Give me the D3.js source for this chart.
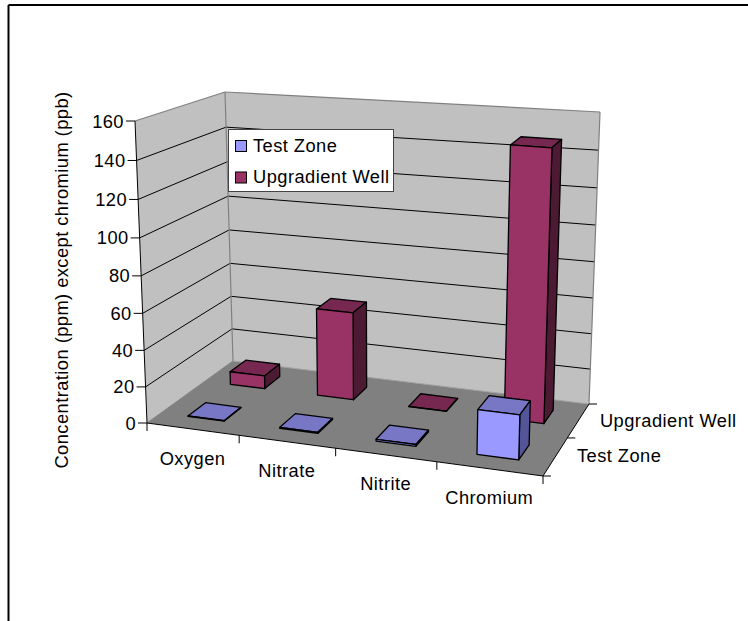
<!DOCTYPE html>
<html>
<head>
<meta charset="utf-8">
<script src="https://cdn.jsdelivr.net/npm/d3@7"></script>
<style>
  html, body { margin: 0; padding: 0; background: #fff; }
  text { font-family: "Liberation Sans", Arial, sans-serif; fill: #000; letter-spacing: 0.45px; }
</style>
</head>
<body>
<div id="chart"></div>
<script>
// Chart data
const categories = ['Oxygen', 'Nitrate', 'Nitrite', 'Chromium'];
const seriesNames = ['Test Zone', 'Upgradient Well'];
const testZone = [0.2, 0.6, 1, 24];
const upgradientWell = [7.5, 50, 0.1, 148];
const yTicks = [0, 20, 40, 60, 80, 100, 120, 140, 160];

const width = 748;
const height = 621;
const fontSize = 18.3;

const svg = d3.select('#chart')
  .append('svg')
  .attr('width', width)
  .attr('height', height)
  .style('display', 'block');

// Scales go to 0..1 along each edge of the box
const x = d3.scaleLinear().domain([0, categories.length]).range([0, 1]);
const z = d3.scaleLinear().domain([0, seriesNames.length]).range([0, 1]);
const y = d3.scaleLinear().domain([0, 160]).range([0, 1]);

// Screen positions of the box corners, named [x][depth][height]
const corners = {
  '000': [147, 423], '100': [543, 476], '010': [233, 361], '110': [589, 404],
  '001': [135, 121], '101': [552, 156], '011': [225, 92], '111': [600, 112]
};

// Foreshortening along each edge
const warp = (t, k) => t * k / (1 + t * (k - 1));

function project(cx, cz, vy) {
  const a = warp(x(cx), 0.91);
  const b = warp(z(cz), 1.12);
  const c = warp(y(vy), 0.95);
  const out = [0, 0];
  for (let i = 0; i < 2; i++) {
    const bottom = (1 - b) * ((1 - a) * corners['000'][i] + a * corners['100'][i])
      + b * ((1 - a) * corners['010'][i] + a * corners['110'][i]);
    const top = (1 - b) * ((1 - a) * corners['001'][i] + a * corners['101'][i])
      + b * ((1 - a) * corners['011'][i] + a * corners['111'][i]);
    out[i] = (1 - c) * bottom + c * top;
  }
  return out;
}

const path = d3.line().curve(d3.curveLinearClosed);
const nx = categories.length;
const nz = seriesNames.length;

function face(pts, fill, stroke, sw) {
  svg.append('path')
    .attr('d', path(pts))
    .attr('fill', fill)
    .attr('stroke', stroke || 'none')
    .attr('stroke-width', sw || 1)
    .attr('stroke-linejoin', 'round');
}

function line(a, b, color, sw) {
  svg.append('line')
    .attr('x1', a[0]).attr('y1', a[1])
    .attr('x2', b[0]).attr('y2', b[1])
    .attr('stroke', color)
    .attr('stroke-width', sw || 1);
}

// Outer frame, only top and left show
line([8.5, 5], [width, 5], '#000', 2);
line([8.5, 5], [8.5, height], '#000', 2);

// Walls and floor
face([project(0, 0, 0), project(0, nz, 0), project(0, nz, 160), project(0, 0, 160)], '#c0c0c0');
face([project(0, nz, 0), project(nx, nz, 0), project(nx, nz, 160), project(0, nz, 160)], '#c0c0c0');
face([project(0, 0, 0), project(nx, 0, 0), project(nx, nz, 0), project(0, nz, 0)], '#808080');

// Gridlines
yTicks.slice(1, -1).forEach(function(t) {
  line(project(0, 0, t), project(0, nz, t), '#000');
  line(project(0, nz, t), project(nx, nz, t), '#000');
});

// Wall edges
line(project(0, 0, 160), project(0, nz, 160), '#808080', 1.2);
line(project(0, nz, 160), project(nx, nz, 160), '#808080', 1.2);
line(project(nx, nz, 160), project(nx, nz, 0), '#808080', 1.2);
line(project(0, nz, 160), project(0, nz, 0), '#808080', 1.2);
line(project(0, nz, 0), project(nx, nz, 0), '#a0a0a0', 1);
line(project(0, 0, 0), project(0, nz, 0), '#808080', 1);

// Axes
line(project(0, 0, 0), project(0, 0, 160), '#000');
line(project(0, 0, 0), project(nx, 0, 0), '#000');
line(project(nx, 0, 0), project(nx, nz, 0), '#000');

yTicks.forEach(function(t) {
  const p = project(0, 0, t);
  line([p[0] - 9, p[1]], p, '#000');
  svg.append('text')
    .attr('x', p[0] - 11)
    .attr('y', p[1] + 6.5)
    .attr('text-anchor', 'end')
    .style('font-size', fontSize + 'px')
    .text(t);
});

d3.range(nx + 1).forEach(function(i) {
  const p = project(i, 0, 0);
  line(p, [p[0], p[1] + 8], '#000');
});

d3.range(nz + 1).forEach(function(i) {
  const p = project(nx, i, 0);
  line(p, [p[0] + 8, p[1]], '#000');
});

// Category labels
categories.forEach(function(c, i) {
  const p = project(i + 0.5, 0, 0);
  svg.append('text')
    .attr('x', p[0])
    .attr('y', p[1] + 35.5)
    .attr('text-anchor', 'middle')
    .style('font-size', fontSize + 'px')
    .text(c);
});

// Depth labels
seriesNames.forEach(function(s, i) {
  const p = project(nx, i + 0.5, 0);
  svg.append('text')
    .attr('x', p[0] + 21.5)
    .attr('y', p[1] + 6)
    .style('font-size', fontSize + 'px')
    .text(s);
});

// Axis title
svg.append('text')
  .attr('transform', 'translate(67.5,280) rotate(-90)')
  .attr('text-anchor', 'middle')
  .style('font-size', fontSize + 'px')
  .text('Concentration (ppm) except chromium (ppb)');

// Bars, back row first
const rows = [
  { values: upgradientWell, row: 1, front: '#993366', top: '#772850', side: '#4d1a33' },
  { values: testZone, row: 0, front: '#9999ff', top: '#7777c6', side: '#545499' }
];

rows.forEach(function(s) {
  s.values.forEach(function(v, i) {
    const x0 = i + 0.3, x1 = i + 0.7;
    const z0 = s.row + 0.3, z1 = s.row + 0.7;
    face([project(x0, z1, v), project(x1, z1, v), project(x1, z0, v), project(x0, z0, v)], s.top, '#000', 1.3);
    face([project(x1, z0, 0), project(x1, z1, 0), project(x1, z1, v), project(x1, z0, v)], s.side, '#000', 1.3);
    face([project(x0, z0, 0), project(x1, z0, 0), project(x1, z0, v), project(x0, z0, v)], s.front, '#000', 1.3);
  });
});

// Legend
const legend = svg.append('g').attr('transform', 'translate(228.5,129.5)');
legend.append('rect')
  .attr('width', 165)
  .attr('height', 62)
  .attr('fill', '#fff')
  .attr('stroke', '#444')
  .attr('stroke-width', 1);

[['#9999ff', 11], ['#993366', 42.5]].forEach(function(d, i) {
  legend.append('rect')
    .attr('x', 7)
    .attr('y', d[1])
    .attr('width', 11)
    .attr('height', 11)
    .attr('fill', d[0])
    .attr('stroke', '#000')
    .attr('stroke-width', 1);
  legend.append('text')
    .attr('x', 24.5)
    .attr('y', d[1] + 11)
    .style('font-size', fontSize + 'px')
    .text(seriesNames[i]);
});
</script>
</body>
</html>
